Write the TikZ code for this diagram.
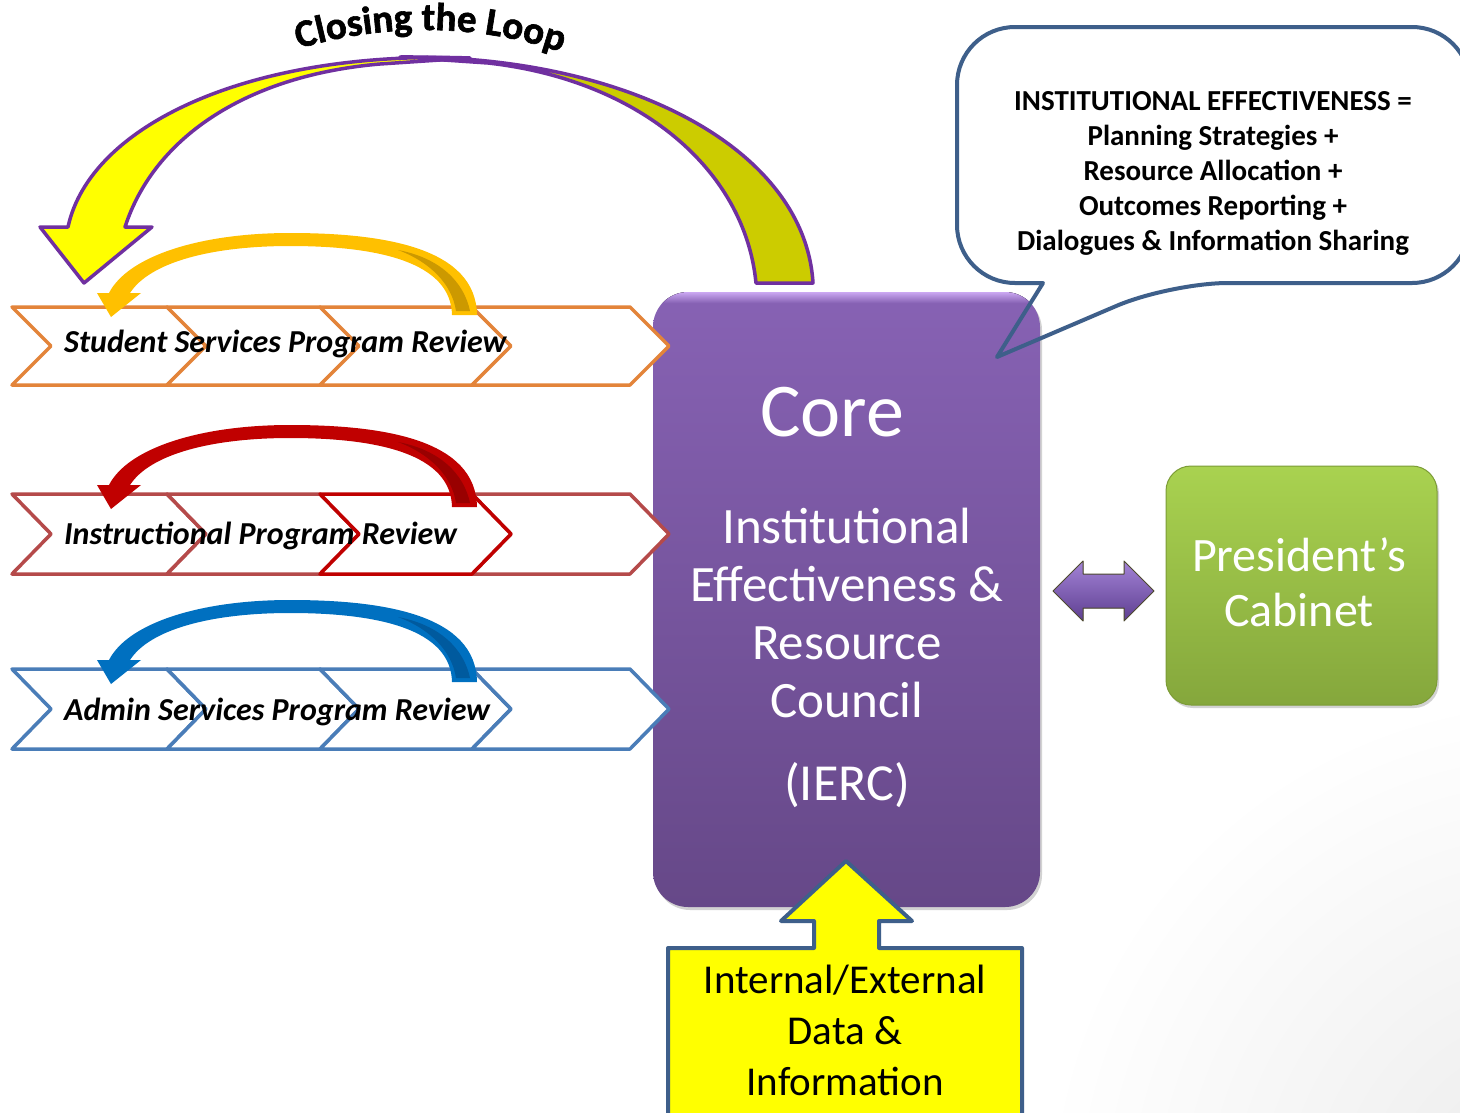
\documentclass[tikz,border=0pt]{standalone}
\usepackage{fontspec}
\setmainfont{Carlito}
\newfontfamily\loopfont[FakeBold=1.6]{Carlito}
\usetikzlibrary{decorations.text,shadows}
\definecolor{chevO}{HTML}{E3843A}
\definecolor{chevR}{HTML}{B54A4A}
\definecolor{chevB}{HTML}{4A7DB8}
\definecolor{hiR}{HTML}{C00000}
\definecolor{arrO}{HTML}{FFC000}
\definecolor{arrOd}{HTML}{CC9900}
\definecolor{arrR}{HTML}{C00000}
\definecolor{arrRd}{HTML}{990000}
\definecolor{arrB}{HTML}{0070C0}
\definecolor{arrBd}{HTML}{005A9E}
\definecolor{loopP}{HTML}{7030A0}
\definecolor{loopY}{HTML}{FFFF00}
\definecolor{loopO}{HTML}{CCCC00}
\definecolor{coreT}{HTML}{8762B4}
\definecolor{coreB}{HTML}{664888}
\definecolor{coreH}{HTML}{CBA8F2}
\definecolor{grnT}{HTML}{A9D250}
\definecolor{grnB}{HTML}{85A73C}
\definecolor{grnD}{HTML}{7C9C36}
\definecolor{callB}{HTML}{3E5F8A}
\definecolor{dblT}{HTML}{A383D6}
\definecolor{dblB}{HTML}{5E3F91}
\newcommand\mychev[5]{\draw[#5, line width=3.5pt, fill=white, line join=round] (#1,#3) -- (#2,#3) -- ({#2+39},{(#3+#4)/2}) -- (#2,#4) -- (#1,#4) -- ({#1+39},{(#3+#4)/2}) -- cycle;}
\newcommand\myrowarrow[3]{%
\begin{scope}[shift={(0,#1)}]
\fill[#2] (477,315) .. controls (476,248) and (385,233) .. (290,233) .. controls (200,233) and (128,256) .. (109,293) -- (97,293) -- (111,317) -- (141,293) -- (130,293) .. controls (150,262) and (212,246) .. (290,246) .. controls (378,246) and (451,262) .. (452,315) -- cycle;
\fill[#3] (398,250) .. controls (440,258) and (464,282) .. (470,311) -- (456,311) .. controls (452,284) and (430,262) .. (398,250) -- cycle;
\end{scope}}
\tikzset{
  chevtext/.style={anchor=base west, font=\bfseries\itshape\fontsize{32}{32}\selectfont, text=black, inner sep=0pt},
  whitetext/.style={text=white, align=center, inner sep=0pt},
}
\begin{document}
\begin{tikzpicture}[x=1pt,y=-1pt]
\useasboundingbox (0,0) rectangle (1460,1112);
\fill[white] (0,0) rectangle (1460,1112);
\begin{scope}
\clip (0,0) rectangle (1460,1112);
\shade[inner color=black!8, outer color=white] (1560,1212) circle[radius=520];
\end{scope}

% core box
\node[draw=none, rounded corners=35pt, minimum width=387pt, minimum height=615pt, top color=coreT, bottom color=coreB, drop shadow={opacity=0.35, shadow xshift=2pt, shadow yshift=-3pt}, inner sep=0pt] (core) at (846.5,599.5) {};
\begin{scope}
\clip[rounded corners=35pt] (653,292) rectangle (1040,907);
\fill[top color=coreH, bottom color=coreT] (653,292) rectangle (1040,303);
\end{scope}
\node[whitetext, anchor=base, font=\fontsize{76}{76}\selectfont] (coret) at (832,436) {Core};
\node[whitetext, font=\fontsize{51}{58}\selectfont] (ierct) at (847,613) {Institutional\\Effectiveness \&\\Resource\\Council};
\node[whitetext, anchor=base, font=\fontsize{52}{58}\selectfont] (iercab) at (847,800) {(IERC)};

% chevron rows
\mychev{12}{167}{307}{385}{chevO}
\mychev{167}{320}{307}{385}{chevO}
\mychev{320}{472}{307}{385}{chevO}
\mychev{472}{630}{307}{385}{chevO}
\mychev{12}{167}{494}{574}{chevR}
\mychev{167}{320}{494}{574}{chevR}
\mychev{472}{630}{494}{574}{chevR}
\mychev{320}{472}{494}{574}{hiR}
\mychev{12}{167}{669}{749}{chevB}
\mychev{167}{320}{669}{749}{chevB}
\mychev{320}{472}{669}{749}{chevB}
\mychev{472}{630}{669}{749}{chevB}

\node[chevtext] (ssr) at (64,352) {Student Services Program Review};
\node[chevtext] (ipr) at (64,544) {Instructional Program Review};
\node[chevtext] (asr) at (64,720) {Admin Services Program Review};

% row loop arrows
\myrowarrow{0}{arrO}{arrOd}
\myrowarrow{192}{arrR}{arrRd}
\myrowarrow{367}{arrB}{arrBd}

% closing the loop arrow
\filldraw[fill=loopO, draw=loopP, line width=3.5pt, line join=round] (400,57) .. controls (630,55) and (805,150) .. (813,283) -- (756,283) .. controls (745,170) and (640,80) .. (488,63) -- cycle;
\filldraw[fill=loopY, draw=loopP, line width=3.5pt, line join=round] (470,58) .. controls (250,50) and (90,125) .. (68,227) -- (40,227) -- (84,283) -- (152,227) -- (125,227) .. controls (155,135) and (250,75) .. (380,64) -- cycle;
\path[decorate, decoration={text along path, text align=center, text={|\fontsize{39}{39}\selectfont\loopfont\bfseries|Closing the Loop}}] (288,52) .. controls (380,22) and (480,22) .. (572,56);

% president's cabinet
\node[draw=grnD, line width=1pt, rounded corners=25pt, minimum width=271pt, minimum height=239pt, top color=grnT, bottom color=grnB, drop shadow={opacity=0.35, shadow xshift=2pt, shadow yshift=-3pt}, inner sep=0pt] (cab) at (1301.5,585.5) {};
\node[whitetext, font=\fontsize{48}{55}\selectfont] (cabt) at (1299,582) {President’s\\Cabinet};

% double arrow
\filldraw[top color=dblT, bottom color=dblB, draw=black!60!olive, line width=1pt, line join=round] (1053,591) -- (1083,561) -- (1083,574) -- (1124,574) -- (1124,561) -- (1154,591) -- (1124,621) -- (1124,608) -- (1083,608) -- (1083,621) -- cycle;

% callout bubble
\draw[callB, line width=4pt, line join=round] (1043,283) [rounded corners=58pt] -- (957,283) -- (957,27) -- (1470,27) -- (1470,283) -- (1170,283) [sharp corners] -- (997,357) -- cycle;
\node[align=center, inner sep=0pt, font=\bfseries\fontsize{29}{35}\selectfont] (iet) at (1213,173) {INSTITUTIONAL EFFECTIVENESS =\\Planning Strategies +\\Resource Allocation +\\Outcomes Reporting +\\Dialogues \& Information Sharing};

% data arrow callout
\filldraw[fill=loopY, draw=callB, line width=4pt, line join=round] (668,1120) -- (668,948) -- (814,948) -- (814,921) -- (781,921) -- (846,861) -- (912,921) -- (879,921) -- (879,948) -- (1022,948) -- (1022,1120);
\node[align=center, inner sep=0pt, font=\fontsize{41}{51}\selectfont] (datat) at (845,1030) {Internal/External\\Data \&\\Information};
\end{tikzpicture}
\end{document}
